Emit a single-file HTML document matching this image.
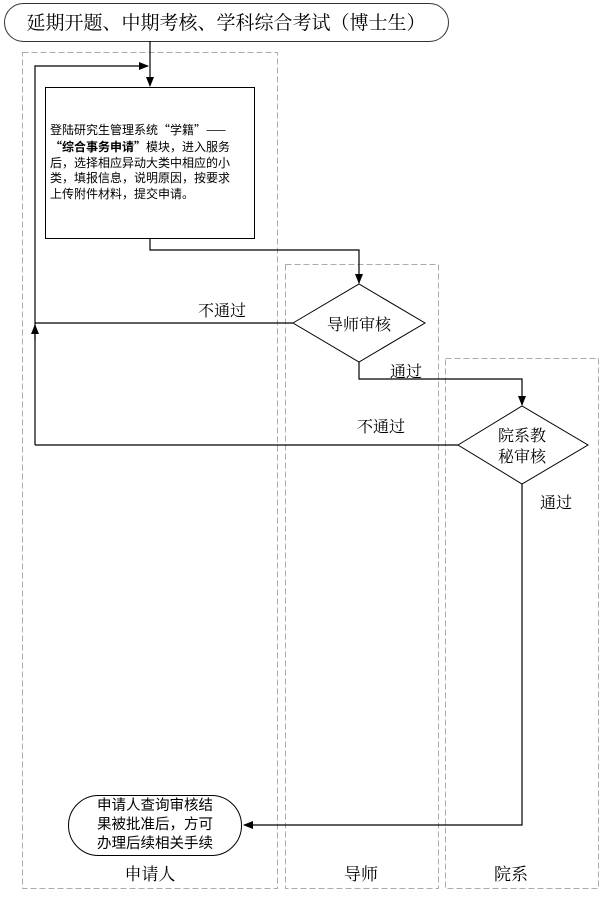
<!DOCTYPE html>
<html><head><meta charset="utf-8"><style>
html,body{margin:0;padding:0;background:#fff;}
svg{display:block;}
text{font-family:"Liberation Sans","Noto Sans CJK SC",sans-serif;fill:#000;}
.s{font-family:"Liberation Serif","Noto Serif CJK SC",serif;}
.c{font-family:"Noto Sans CJK SC",sans-serif;}
</style></head><body>
<svg width="602" height="897" viewBox="0 0 602 897" xmlns="http://www.w3.org/2000/svg">
<defs><marker id="a" markerWidth="10" markerHeight="10" refX="9" refY="5" orient="auto" markerUnits="userSpaceOnUse"><path d="M0,1 L10,5 L0,9 Z" fill="#000"/></marker></defs>
<g fill="none" stroke="#a8acb2" stroke-width="1" stroke-dasharray="6,3">
<rect x="22.5" y="52.5" width="255" height="836"/>
<rect x="285.5" y="264.5" width="153" height="624"/>
<rect x="445.5" y="358.5" width="153" height="530"/>
</g>
<rect x="4.5" y="3.5" width="444" height="38" rx="19" fill="#fff" stroke="#333"/>
<text x="226" y="29" font-size="19" text-anchor="middle" class="s">延期开题、中期考核、学科综合考试（博士生）</text>
<g stroke="#000" stroke-width="1.2" fill="none">
<line x1="150" y1="41" x2="150" y2="86" marker-end="url(#a)"/>
<polyline points="35,445 35,66 148,66" marker-end="url(#a)"/>
<polyline points="150,238 150,250 359,250 359,283" marker-end="url(#a)"/>
<line x1="293" y1="323" x2="35" y2="323"/>
<line x1="35" y1="340" x2="35" y2="325" marker-end="url(#a)"/>
<polyline points="359,362 359,379 522,379 522,405" marker-end="url(#a)"/>
<line x1="458" y1="445" x2="35" y2="445"/>
<polyline points="522,484 522,825 244,825" marker-end="url(#a)"/>
</g>
<rect x="45.5" y="87.5" width="209" height="151" fill="#fff" stroke="#000"/>
<g font-size="12" class="c">
<text x="50" y="134" class="c">登陆研究生管理系统“学籍”——</text>
<text x="50" y="151" class="c"><tspan font-weight="bold">“综合事务申请”</tspan>模块，进入服务</text>
<text x="50" y="167" class="c">后，选择相应异动大类中相应的小</text>
<text x="50" y="182" class="c">类，填报信息，说明原因，按要求</text>
<text x="50" y="198" class="c">上传附件材料，提交申请。</text>
</g>
<polygon points="293,323 359,284 425,323 359,362" fill="#fff" stroke="#000"/>
<text x="359" y="330" font-size="16" text-anchor="middle" class="s">导师审核</text>
<polygon points="458,445 522,406 588,445 522,484" fill="#fff" stroke="#000"/>
<text x="522" y="441" font-size="16" text-anchor="middle" class="s">院系教</text>
<text x="522" y="462" font-size="16" text-anchor="middle" class="s">秘审核</text>
<g font-size="16" class="s">
<text x="198" y="316" class="s">不通过</text>
<text x="390" y="377" class="s">通过</text>
<text x="357" y="432" class="s">不通过</text>
<text x="540" y="508" class="s">通过</text>
</g>
<rect x="68.5" y="795.5" width="173" height="60" rx="30" fill="#fff" stroke="#000"/>
<g font-size="14.5" text-anchor="middle">
<text x="155" y="810">申请人查询审核结</text>
<text x="155" y="829">果被批准后，方可</text>
<text x="155" y="848">办理后续相关手续</text>
</g>
<g font-size="17" text-anchor="middle" class="s">
<text x="150" y="880" class="s">申请人</text>
<text x="361" y="880" class="s">导师</text>
<text x="511" y="880" class="s">院系</text>
</g>
</svg>
</body></html>
